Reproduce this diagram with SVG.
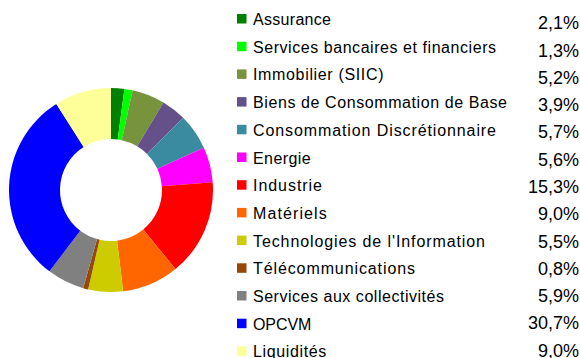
<svg xmlns="http://www.w3.org/2000/svg" width="580" height="358" viewBox="0 0 580 358">
<style>
.lbl{font-family:"Liberation Sans",Arial,sans-serif;font-size:16px;fill:#000}
.pct{font-family:"Liberation Sans",Arial,sans-serif;font-size:18px;fill:#000;text-anchor:end}
</style>
<rect width="580" height="358" fill="#fff"/>
<g id="donut">
<path id="s-assurance" fill="#008000" d="M111,88 A102,102 0 0 1 124.42,88.89 L117.71,139.44 A51,51 0 0 0 111,139 Z"/>
<path id="s-services-bancaires" fill="#00FF00" d="M124.42,88.89 A102,102 0 0 1 132.63,90.32 L121.81,140.16 A51,51 0 0 0 117.71,139.44 Z"/>
<path id="s-immobilier" fill="#77933C" d="M132.63,90.32 A102,102 0 0 1 163.47,102.53 L137.24,146.27 A51,51 0 0 0 121.81,140.16 Z"/>
<path id="s-biens" fill="#66508A" d="M163.47,102.53 A102,102 0 0 1 183.13,117.87 L147.06,153.94 A51,51 0 0 0 137.24,146.27 Z"/>
<path id="s-consommation" fill="#3A8AA0" d="M183.13,117.87 A102,102 0 0 1 203.83,147.73 L157.42,168.87 A51,51 0 0 0 147.06,153.94 Z"/>
<path id="s-energie" fill="#FF00FF" d="M203.83,147.73 A102,102 0 0 1 212.71,182.32 L161.85,186.16 A51,51 0 0 0 157.42,168.87 Z"/>
<path id="s-industrie" fill="#FF0000" d="M212.71,182.32 A102,102 0 0 1 175.53,269 L143.26,229.5 A51,51 0 0 0 161.85,186.16 Z"/>
<path id="s-materiels" fill="#FF6600" d="M175.53,269 A102,102 0 0 1 123.15,291.27 L117.07,240.64 A51,51 0 0 0 143.26,229.5 Z"/>
<path id="s-technologies" fill="#CCCC00" d="M123.15,291.27 A102,102 0 0 1 88.12,289.4 L99.56,239.7 A51,51 0 0 0 117.07,240.64 Z"/>
<path id="s-telecom" fill="#974806" d="M88.12,289.4 A102,102 0 0 1 83.16,288.13 L97.08,239.06 A51,51 0 0 0 99.56,239.7 Z"/>
<path id="s-collectivites" fill="#808080" d="M83.16,288.13 A102,102 0 0 1 49.5,271.37 L80.25,230.69 A51,51 0 0 0 97.08,239.06 Z"/>
<path id="s-opcvm" fill="#0000FF" d="M49.5,271.37 A102,102 0 0 1 56.35,103.88 L83.67,146.94 A51,51 0 0 0 80.25,230.69 Z"/>
<path id="s-liquidites" fill="#FFFF99" d="M56.35,103.88 A102,102 0 0 1 111,88 L111,139 A51,51 0 0 0 83.67,146.94 Z"/>
</g>
<g id="legend">
<g id="l-assurance"><rect x="237" y="14" width="9.5" height="9.5" fill="#008000"/><text class="lbl" x="253" y="25" textLength="78" lengthAdjust="spacing">Assurance</text><text class="pct" x="579" y="29.3">2,1%</text></g>
<g id="l-services-bancaires"><rect x="237" y="41.7" width="9.5" height="9.5" fill="#00FF00"/><text class="lbl" x="253" y="52.7" textLength="243" lengthAdjust="spacing">Services bancaires et financiers</text><text class="pct" x="579" y="56.6">1,3%</text></g>
<g id="l-immobilier"><rect x="237" y="69.4" width="9.5" height="9.5" fill="#77933C"/><text class="lbl" x="253" y="80.4" textLength="130.5" lengthAdjust="spacing">Immobilier (SIIC)</text><text class="pct" x="579" y="83.9">5,2%</text></g>
<g id="l-biens"><rect x="237" y="97.1" width="9.5" height="9.5" fill="#66508A"/><text class="lbl" x="253" y="108.1" textLength="254" lengthAdjust="spacing">Biens de Consommation de Base</text><text class="pct" x="579" y="111.1">3,9%</text></g>
<g id="l-consommation"><rect x="237" y="124.8" width="9.5" height="9.5" fill="#3A8AA0"/><text class="lbl" x="253" y="135.8" textLength="243" lengthAdjust="spacing">Consommation Discrétionnaire</text><text class="pct" x="579" y="138.4">5,7%</text></g>
<g id="l-energie"><rect x="237" y="152.5" width="9.5" height="9.5" fill="#FF00FF"/><text class="lbl" x="253" y="163.5" textLength="57.7" lengthAdjust="spacing">Energie</text><text class="pct" x="579" y="165.7">5,6%</text></g>
<g id="l-industrie"><rect x="237" y="180.2" width="9.5" height="9.5" fill="#FF0000"/><text class="lbl" x="253" y="191.2" textLength="69" lengthAdjust="spacing">Industrie</text><text class="pct" x="579" y="193">15,3%</text></g>
<g id="l-materiels"><rect x="237" y="207.9" width="9.5" height="9.5" fill="#FF6600"/><text class="lbl" x="253" y="218.9" textLength="73.7" lengthAdjust="spacing">Matériels</text><text class="pct" x="579" y="220.2">9,0%</text></g>
<g id="l-technologies"><rect x="237" y="235.6" width="9.5" height="9.5" fill="#CCCC00"/><text class="lbl" x="253" y="246.6" textLength="232" lengthAdjust="spacing">Technologies de l'Information</text><text class="pct" x="579" y="247.5">5,5%</text></g>
<g id="l-telecom"><rect x="237" y="263.3" width="9.5" height="9.5" fill="#974806"/><text class="lbl" x="253" y="274.3" textLength="162" lengthAdjust="spacing">Télécommunications</text><text class="pct" x="579" y="274.8">0,8%</text></g>
<g id="l-collectivites"><rect x="237" y="291" width="9.5" height="9.5" fill="#808080"/><text class="lbl" x="253" y="302" textLength="191" lengthAdjust="spacing">Services aux collectivités</text><text class="pct" x="579" y="302">5,9%</text></g>
<g id="l-opcvm"><rect x="237" y="318.7" width="9.5" height="9.5" fill="#0000FF"/><text class="lbl" x="253" y="329.7" textLength="58.3" lengthAdjust="spacing">OPCVM</text><text class="pct" x="579" y="329.3">30,7%</text></g>
<g id="l-liquidites"><rect x="237" y="346.4" width="9.5" height="9.5" fill="#FFFF99"/><text class="lbl" x="253" y="357.4" textLength="73.3" lengthAdjust="spacing">Liquidités</text><text class="pct" x="579" y="356.6">9,0%</text></g>
</g>
</svg>
